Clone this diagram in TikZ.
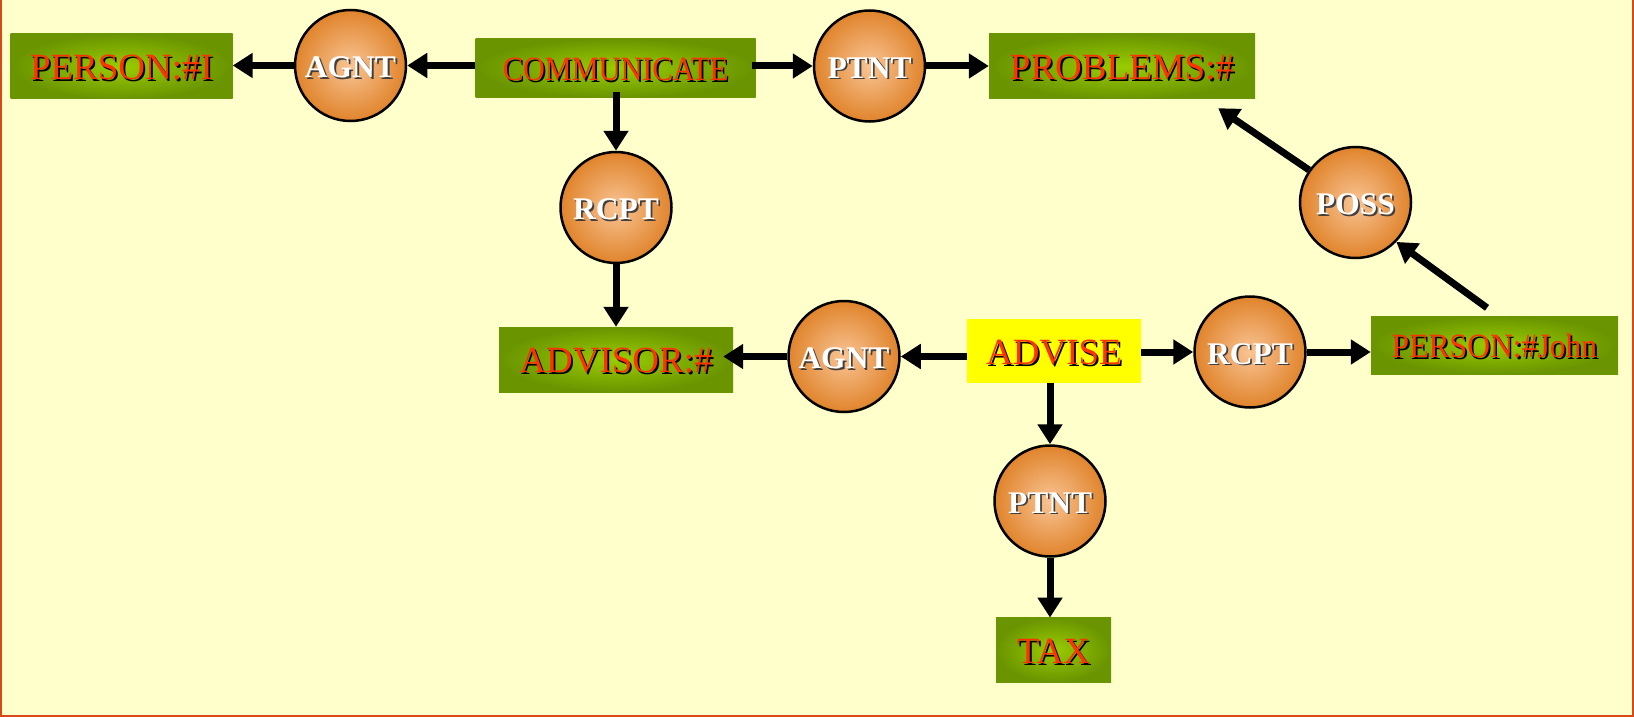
\documentclass[tikz,border=0pt]{standalone}
\usepackage{fontspec}
\usepackage{graphicx}
\usetikzlibrary{arrows.meta}
\setmainfont{Liberation Serif}

\definecolor{paper}{HTML}{FFFFCC}
\definecolor{frame}{HTML}{D84818}
\definecolor{greenedge}{HTML}{6A9400}
\definecolor{greenmid}{HTML}{99CC00}
\definecolor{orangeedge}{HTML}{E0842C}
\definecolor{orangemid}{HTML}{F9C494}
\definecolor{labelred}{HTML}{FF3300}
\definecolor{hilite}{HTML}{FFFF00}

% text with a small drop shadow: #1 text colour, #2 shadow colour, #3 text
\newcommand\shtxt[3]{%
  \makebox[0pt][l]{\hspace{1.8pt}\raisebox{-1.8pt}{\color{#2}#3}}{\color{#1}#3}}
\newcommand\boxlbl[1]{\fontsize{37}{42}\selectfont\shtxt{labelred}{black}{#1}}
\newcommand\rellbl[1]{\fontsize{31.5}{36}\selectfont\bfseries\shtxt{white}{black!75}{#1}}

\tikzset{
  concept/.style={rectangle, inner sep=0pt, shading=radial,
    inner color=greenmid, outer color=greenedge, text height=26.5pt, text depth=0pt},
  actbox/.style={rectangle, inner sep=0pt, fill=hilite, text height=26.5pt, text depth=0pt},
  relation/.style={circle, draw=black, line width=2.5pt, minimum size=111pt,
    inner sep=0pt, shading=radial, inner color=orangemid, outer color=orangeedge,
    text height=24pt, text depth=0pt},
  arr/.style={line width=7pt, -{Triangle[width=24pt,length=20pt]}}
}

\begin{document}
\begin{tikzpicture}[x=1pt,y=-1pt]
  % page and frame
  \fill[paper] (0,0) rectangle (1634,717);
  \useasboundingbox (0,0) rectangle (1634,717);
  \draw[frame, line width=2.2pt] (1.1,0) -- (1.1,715.9) -- (1632.9,715.9) -- (1632.9,0);

  % concepts
  \node[concept, minimum width=222pt, minimum height=65pt] (personI) at (121.5,66.5) {\boxlbl{PERSON:\#I}};
  \node[concept, minimum width=280pt, minimum height=59pt, text height=24.5pt] (comm) at (615.5,68) {\fontsize{34}{40}\selectfont\shtxt{labelred}{black}{\scalebox{0.89}[1]{COMMUNICATE}}};
  \node[concept, minimum width=266pt, minimum height=65pt] (problems) at (1122,66.5) {\boxlbl{PROBLEMS:\#}};
  \node[concept, minimum width=234pt, minimum height=65pt] (advisor) at (616,359.5) {\boxlbl{ADVISOR:\#}};
  \node[actbox, minimum width=174pt, minimum height=64pt] (advise) at (1054,351) {\boxlbl{ADVISE}};
  \node[concept, minimum width=247pt, minimum height=58pt, text height=24.5pt] (john) at (1494.5,345) {\fontsize{34}{40}\selectfont\shtxt{labelred}{black}{\scalebox{0.93}[1]{PERSON:\#John}}};
  \node[concept, minimum width=115pt, minimum height=64.5pt] (tax) at (1053.5,650) {\boxlbl{TAX}};

  % relations
  \node[relation] (agnt1) at (350.5,65.5) {\rellbl{AGNT}};
  \node[relation] (ptnt1) at (869.5,66) {\rellbl{PTNT}};
  \node[relation] (rcpt1) at (616,207.5) {\rellbl{RCPT}};
  \node[relation] (agnt2) at (844,356.5) {\rellbl{AGNT}};
  \node[relation] (rcpt2) at (1250,352) {\rellbl{RCPT}};
  \node[relation] (ptnt2) at (1050,501) {\rellbl{PTNT}};
  \node[relation] (poss) at (1355.5,202.5) {\rellbl{POSS}};

  % arcs
  \draw[arr] (comm.west |- agnt1) -- (agnt1);
  \draw[arr] (agnt1) -- (personI.east |- agnt1);
  \draw[arr] ([xshift=-4pt]comm.east |- ptnt1) -- (ptnt1);
  \draw[arr] (ptnt1) -- (problems.west |- ptnt1);
  \draw[arr] ([yshift=6pt]comm.south -| rcpt1) -- (rcpt1);
  \draw[arr] (rcpt1) -- (advisor.north -| rcpt1);
  \draw[arr] (advise.west |- agnt2) -- (agnt2);
  \draw[arr, shorten >=-10pt] (agnt2) -- (advisor.east |- agnt2);
  \draw[arr] (advise.east |- rcpt2) -- (rcpt2);
  \draw[arr] (rcpt2) -- (john.west |- rcpt2);
  \draw[arr] (advise.south -| ptnt2) -- (ptnt2);
  \draw[arr] (ptnt2) -- (tax.north -| ptnt2);
  \draw[arr] ([shift={(-7.5,-8)}]john.north) -- (poss.-44);
  \draw[arr] (poss.145.6) -- ([shift={(-37,9)}]problems.south east);
\end{tikzpicture}
\end{document}
